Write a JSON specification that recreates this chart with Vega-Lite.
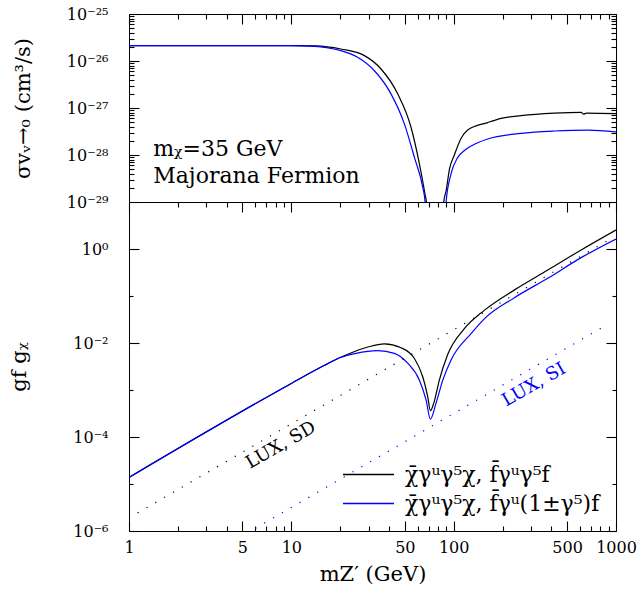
{
  "$schema": "https://vega.github.io/schema/vega-lite/v6.json",
  "autosize": {"type": "pad"},
  "padding": {"left": 8, "top": 5, "right": 5, "bottom": 5},
  "background": "white",
  "datasets": {
    "sigma": [
      {"m": 1, "v": 2.12e-26, "c": "axial"},
      {"m": 3, "v": 2.12e-26, "c": "axial"},
      {"m": 10, "v": 2.12e-26, "c": "axial"},
      {"m": 14, "v": 2.1e-26, "c": "axial"},
      {"m": 20.2, "v": 1.8e-26, "c": "axial"},
      {"m": 28.2, "v": 1.3e-26, "c": "axial"},
      {"m": 35.7, "v": 6.76e-27, "c": "axial"},
      {"m": 45.2, "v": 2.0e-27, "c": "axial"},
      {"m": 54.6, "v": 3.9e-28, "c": "axial"},
      {"m": 61.5, "v": 6.5e-29, "c": "axial"},
      {"m": 66.6, "v": 1.48e-29, "c": "axial"},
      {"m": 67.9, "v": 1e-29, "c": "axial"},
      {"m": 68.8, "v": 1e-31, "c": "axial"},
      {"m": 86.5, "v": 1e-31, "c": "axial"},
      {"m": 86.9, "v": 1e-29, "c": "axial"},
      {"m": 90, "v": 1.78e-29, "c": "axial"},
      {"m": 94.2, "v": 5e-29, "c": "axial"},
      {"m": 101, "v": 1e-28, "c": "axial"},
      {"m": 111, "v": 2.24e-28, "c": "axial"},
      {"m": 122, "v": 3.4e-28, "c": "axial"},
      {"m": 162, "v": 4.9e-28, "c": "axial"},
      {"m": 196, "v": 6.0e-28, "c": "axial"},
      {"m": 260, "v": 6.9e-28, "c": "axial"},
      {"m": 417, "v": 7.8e-28, "c": "axial"},
      {"m": 610, "v": 8.1e-28, "c": "axial"},
      {"m": 630, "v": 7.4e-28, "c": "axial"},
      {"m": 660, "v": 7.8e-28, "c": "axial"},
      {"m": 1000, "v": 7.6e-28, "c": "axial"},
      {"m": 1, "v": 2.12e-26, "c": "chiral"},
      {"m": 3, "v": 2.12e-26, "c": "chiral"},
      {"m": 10, "v": 2.12e-26, "c": "chiral"},
      {"m": 13, "v": 2.08e-26, "c": "chiral"},
      {"m": 20.2, "v": 1.66e-26, "c": "chiral"},
      {"m": 25.6, "v": 1.2e-26, "c": "chiral"},
      {"m": 32.5, "v": 6.2e-27, "c": "chiral"},
      {"m": 41.1, "v": 2.0e-27, "c": "chiral"},
      {"m": 49.7, "v": 4.6e-28, "c": "chiral"},
      {"m": 57.3, "v": 8.9e-29, "c": "chiral"},
      {"m": 64.5, "v": 2.04e-29, "c": "chiral"},
      {"m": 66.7, "v": 1e-29, "c": "chiral"},
      {"m": 67.6, "v": 1e-31, "c": "chiral"},
      {"m": 89.5, "v": 1e-31, "c": "chiral"},
      {"m": 89.8, "v": 1e-29, "c": "chiral"},
      {"m": 96.4, "v": 4.0e-29, "c": "chiral"},
      {"m": 106, "v": 8.9e-29, "c": "chiral"},
      {"m": 116, "v": 1.23e-28, "c": "chiral"},
      {"m": 130, "v": 1.6e-28, "c": "chiral"},
      {"m": 162, "v": 2.19e-28, "c": "chiral"},
      {"m": 260, "v": 2.88e-28, "c": "chiral"},
      {"m": 417, "v": 3.24e-28, "c": "chiral"},
      {"m": 670, "v": 3.39e-28, "c": "chiral"},
      {"m": 1000, "v": 3.09e-28, "c": "chiral"}
    ],
    "g": [
      {"m": 1, "v": 1.38e-5, "c": "axial"},
      {"m": 10, "v": 1.38e-3, "c": "axial"},
      {"m": 15.9, "v": 3.31e-3, "c": "axial"},
      {"m": 20, "v": 4.9e-3, "c": "axial"},
      {"m": 25, "v": 6.76e-3, "c": "axial"},
      {"m": 30, "v": 8.32e-3, "c": "axial"},
      {"m": 37.4, "v": 9.55e-3, "c": "axial"},
      {"m": 47.4, "v": 7.94e-3, "c": "axial"},
      {"m": 57.3, "v": 4.68e-3, "c": "axial"},
      {"m": 64.5, "v": 1.91e-3, "c": "axial"},
      {"m": 69.2, "v": 7.24e-4, "c": "axial"},
      {"m": 71.9, "v": 3.63e-4, "c": "axial"},
      {"m": 75.4, "v": 5.25e-4, "c": "axial"},
      {"m": 81.6, "v": 1.62e-3, "c": "axial"},
      {"m": 92, "v": 5.75e-3, "c": "axial"},
      {"m": 116, "v": 0.02, "c": "axial"},
      {"m": 155, "v": 0.0501, "c": "axial"},
      {"m": 237, "v": 0.135, "c": "axial"},
      {"m": 380, "v": 0.357, "c": "axial"},
      {"m": 610, "v": 0.955, "c": "axial"},
      {"m": 1000, "v": 2.54, "c": "axial"},
      {"m": 1, "v": 1.38e-5, "c": "chiral"},
      {"m": 10, "v": 1.38e-3, "c": "chiral"},
      {"m": 15.9, "v": 3.31e-3, "c": "chiral"},
      {"m": 20, "v": 4.9e-3, "c": "chiral"},
      {"m": 25, "v": 6.03e-3, "c": "chiral"},
      {"m": 34.1, "v": 6.85e-3, "c": "chiral"},
      {"m": 43.1, "v": 6.03e-3, "c": "chiral"},
      {"m": 52.1, "v": 3.72e-3, "c": "chiral"},
      {"m": 61.5, "v": 1.62e-3, "c": "chiral"},
      {"m": 67.6, "v": 6.17e-4, "c": "chiral"},
      {"m": 71.9, "v": 2.4e-4, "c": "chiral"},
      {"m": 77.9, "v": 5.25e-4, "c": "chiral"},
      {"m": 85.7, "v": 1.62e-3, "c": "chiral"},
      {"m": 96.4, "v": 4.37e-3, "c": "chiral"},
      {"m": 128, "v": 0.0158, "c": "chiral"},
      {"m": 155, "v": 0.0331, "c": "chiral"},
      {"m": 237, "v": 0.0923, "c": "chiral"},
      {"m": 380, "v": 0.238, "c": "chiral"},
      {"m": 610, "v": 0.655, "c": "chiral"},
      {"m": 1000, "v": 1.63, "c": "chiral"}
    ],
    "lux": [
      {"m": 1.13, "v": 2.43e-6, "lux": "SD"},
      {"m": 880, "v": 1.48, "lux": "SD"},
      {"m": 5.3, "v": 8.9e-7, "lux": "SI"},
      {"m": 893, "v": 0.0252, "lux": "SI"}
    ],
    "luxlabels": [
      {"m": 8.64, "v": 6.6e-5, "t": "LUX, SD", "lux": "SD"},
      {"m": 313, "v": 1.28e-3, "t": "LUX, SI", "lux": "SI"}
    ],
    "notes": [
      {"m": 1.41, "v": 1.35e-28, "t": "mᵪ=35 GeV"},
      {"m": 1.41, "v": 3.5e-29, "t": "Majorana Fermion"}
    ]
  },
  "vconcat": [
    {
      "width": 487,
      "height": 188,
      "layer": [
        {
          "data": {"name": "sigma"},
          "mark": {"type": "line", "clip": true, "strokeWidth": 1.2, "interpolate": "monotone"},
          "encoding": {
            "x": {"field": "m", "type": "quantitative",
              "scale": {"type": "log", "domain": [1, 1000]},
              "axis": {"orient": "top", "labels": false, "title": null, "offset": -10, "tickSize": 10,
                "values": [1,5,10,50,100,500,1000]}},
            "y": {"field": "v", "type": "quantitative",
              "scale": {"type": "log", "domain": [1e-29, 1e-25]},
              "axis": {"orient": "left", "title": "σvᵥ→₀ (cm³/s)", "titlePadding": 33,
                "offset": -10, "tickSize": 10, "labelPadding": 21,
                "values": [1e-29,1e-28,1e-27,1e-26,1e-25],
                "labelExpr": "datum.value === 1e-25 ? '10⁻²⁵' : datum.value === 1e-26 ? '10⁻²⁶' : datum.value === 1e-27 ? '10⁻²⁷' : datum.value === 1e-28 ? '10⁻²⁸' : datum.value === 1e-29 ? '10⁻²⁹' : ''"}},
            "color": {"field": "c", "type": "nominal",
              "scale": {"domain": ["axial", "chiral"], "range": ["#000000", "#0000ff"]},
              "legend": null}
          }
        },
        {
          "data": {"name": "notes"},
          "mark": {"type": "text", "align": "left", "baseline": "middle", "fontSize": 22, "font": "DejaVu Serif", "color": "black"},
          "encoding": {
            "x": {"field": "m", "type": "quantitative",
              "axis": {"orient": "top", "labels": false, "title": null, "offset": -5, "tickSize": 5,
                "values": [2,3,4,6,7,8,9,20,30,40,60,70,80,90,200,300,400,600,700,800,900]}},
            "y": {"field": "v", "type": "quantitative",
              "axis": {"orient": "left", "labels": false, "title": null, "offset": -5, "tickSize": 5,
                "values": [2e-29,3e-29,4e-29,5e-29,6e-29,7e-29,8e-29,9e-29,2e-28,3e-28,4e-28,5e-28,6e-28,7e-28,8e-28,9e-28,2e-27,3e-27,4e-27,5e-27,6e-27,7e-27,8e-27,9e-27,2e-26,3e-26,4e-26,5e-26,6e-26,7e-26,8e-26,9e-26]}},
            "text": {"field": "t"}
          }
        },
        {
          "data": {"name": "sigma"},
          "mark": {"type": "line", "opacity": 0},
          "encoding": {
            "x": {"field": "m", "type": "quantitative", "axis": null},
            "y": {"field": "v", "type": "quantitative",
              "axis": {"orient": "right", "labels": false, "title": null, "offset": -10, "tickSize": 10,
                "values": [1e-29,1e-28,1e-27,1e-26,1e-25]}},
            "detail": {"field": "c"}
          }
        },
        {
          "data": {"name": "sigma"},
          "mark": {"type": "line", "opacity": 0},
          "encoding": {
            "x": {"field": "m", "type": "quantitative", "axis": null},
            "y": {"field": "v", "type": "quantitative",
              "axis": {"orient": "right", "labels": false, "title": null, "offset": -5, "tickSize": 5,
                "values": [2e-29,3e-29,4e-29,5e-29,6e-29,7e-29,8e-29,9e-29,2e-28,3e-28,4e-28,5e-28,6e-28,7e-28,8e-28,9e-28,2e-27,3e-27,4e-27,5e-27,6e-27,7e-27,8e-27,9e-27,2e-26,3e-26,4e-26,5e-26,6e-26,7e-26,8e-26,9e-26]}},
            "detail": {"field": "c"}
          }
        }
      ],
      "resolve": {"axis": {"x": "independent", "y": "independent"}}
    },
    {
      "width": 487,
      "height": 329,
      "layer": [
        {
          "data": {"name": "g"},
          "mark": {"type": "line", "clip": true, "strokeWidth": 1.2, "interpolate": "monotone"},
          "encoding": {
            "x": {"field": "m", "type": "quantitative",
              "scale": {"type": "log", "domain": [1, 1000]},
              "axis": {"orient": "bottom", "title": "mZ′ (GeV)", "titlePadding": 8,
                "offset": -10, "tickSize": 10, "labelPadding": 8,
                "values": [1,5,10,50,100,500,1000],
                "labelExpr": "'' + datum.value"}},
            "y": {"field": "v", "type": "quantitative",
              "scale": {"type": "log", "domain": [1e-6, 10]},
              "axis": {"orient": "left", "title": "gf gᵪ", "titlePadding": 43,
                "offset": -10, "tickSize": 10, "labelPadding": 21,
                "values": [1e-6,1e-4,1e-2,1],
                "labelExpr": "datum.value === 1 ? '10⁰' : datum.value === 0.01 ? '10⁻²' : datum.value === 0.0001 ? '10⁻⁴' : datum.value === 0.000001 ? '10⁻⁶' : ''"}},
            "color": {"field": "c", "type": "nominal",
              "scale": {"domain": ["axial", "chiral"], "range": ["#000000", "#0000ff"]},
              "legend": {"orient": "bottom-right", "title": null, "offset": 16,
                "labelExpr": "datum.value === 'axial' ? 'χ̄γᵘγ⁵χ, f̄γᵘγ⁵f' : 'χ̄γᵘγ⁵χ, f̄γᵘ(1±γ⁵)f'",
                "symbolType": "M-2,0H2", "symbolSize": 650, "symbolStrokeWidth": 1.3,
                "labelFont": "DejaVu Serif", "labelFontSize": 22, "labelColor": "black",
                "labelOffset": 23, "rowPadding": 4, "labelLimit": 400}}
          }
        },
        {
          "data": {"name": "lux"},
          "mark": {"type": "line", "clip": true, "strokeWidth": 1.2, "strokeDash": [1.2, 9]},
          "encoding": {
            "x": {"field": "m", "type": "quantitative",
              "axis": {"orient": "top", "labels": false, "title": null, "offset": -10, "tickSize": 10,
                "values": [1,5,10,50,100,500,1000]}},
            "y": {"field": "v", "type": "quantitative",
              "axis": {"orient": "right", "labels": false, "title": null, "offset": -10, "tickSize": 10,
                "values": [1e-6,1e-4,1e-2,1]}},
            "stroke": {"field": "lux", "type": "nominal",
              "scale": {"domain": ["SD", "SI"], "range": ["#000000", "#0000ff"]}, "legend": null},
            "detail": {"field": "lux"}
          }
        },
        {
          "data": {"name": "luxlabels"},
          "mark": {"type": "text", "angle": 330, "fontSize": 18, "font": "DejaVu Serif", "align": "center", "baseline": "middle"},
          "encoding": {
            "x": {"field": "m", "type": "quantitative",
              "axis": {"orient": "bottom", "labels": false, "title": null, "offset": -5, "tickSize": 5,
                "values": [2,3,4,6,7,8,9,20,30,40,60,70,80,90,200,300,400,600,700,800,900]}},
            "y": {"field": "v", "type": "quantitative",
              "axis": {"orient": "left", "labels": false, "title": null, "offset": -4, "tickSize": 4,
                "values": [1e-5,1e-3,1e-1]}},
            "fill": {"field": "lux", "type": "nominal",
              "scale": {"domain": ["SD", "SI"], "range": ["#000000", "#0000ff"]}, "legend": null},
            "text": {"field": "t"}
          }
        },
        {
          "data": {"name": "g"},
          "mark": {"type": "line", "opacity": 0},
          "encoding": {
            "x": {"field": "m", "type": "quantitative",
              "axis": {"orient": "top", "labels": false, "title": null, "offset": -5, "tickSize": 5,
                "values": [2,3,4,6,7,8,9,20,30,40,60,70,80,90,200,300,400,600,700,800,900]}},
            "y": {"field": "v", "type": "quantitative",
              "axis": {"orient": "right", "labels": false, "title": null, "offset": -4, "tickSize": 4,
                "values": [1e-5,1e-3,1e-1]}},
            "detail": {"field": "c"}
          }
        }
      ],
      "resolve": {"axis": {"x": "independent", "y": "independent"}}
    }
  ],
  "spacing": 0,
  "bounds": "flush",
  "resolve": {"scale": {"x": "independent", "y": "independent", "color": "independent"}},
  "config": {
    "view": {"stroke": "#000000", "strokeWidth": 1},
    "axis": {"domain": false, "grid": false, "tickColor": "#000000", "tickWidth": 1.1, "ticks": true, "zindex": 1,
      "labelFont": "DejaVu Serif", "labelFontSize": 16, "labelColor": "#000000",
      "titleFont": "DejaVu Serif", "titleFontSize": 21, "titleFontWeight": "normal", "titleColor": "#000000",
      "labelFlush": false, "labelOverlap": false},
    "text": {"font": "DejaVu Serif"}
  }
}
